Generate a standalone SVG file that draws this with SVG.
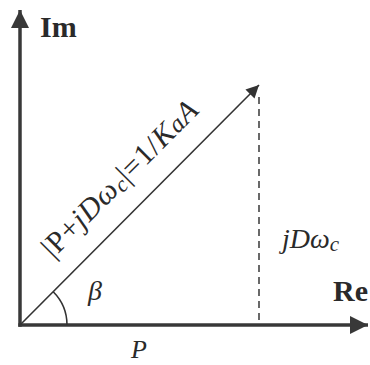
<svg xmlns="http://www.w3.org/2000/svg" width="370" height="365" viewBox="0 0 370 365">
<style>
.axis{stroke:#383838;stroke-width:3.5;fill:none}
.vec{stroke:#333;stroke-width:1.6;fill:none}
.dash{stroke:#444;stroke-width:1.6;stroke-dasharray:7,5;fill:none}
.t{font-family:"Liberation Serif","Times New Roman",serif;fill:#2a2a2a}
.b{font-weight:bold}
.i{font-style:italic}
</style>
<defs>
<marker id="bigArrow" viewBox="0 0 10 10" refX="10" refY="5" markerWidth="5.2" markerHeight="5.2" markerUnits="strokeWidth" orient="auto">
<path d="M0,0 L10,5 L0,10 z" fill="#383838"/>
</marker>
<marker id="smallArrow" viewBox="0 0 10 10" refX="10" refY="5" markerWidth="9" markerHeight="8" markerUnits="strokeWidth" orient="auto">
<path d="M0,0 L10,5 L0,10 z" fill="#333"/>
</marker>
</defs>
<g id="connectors">
<line id="re-axis" class="axis" x1="18.3" y1="325" x2="368" y2="325" marker-end="url(#bigArrow)"/>
<line id="im-axis" class="axis" x1="20" y1="326.7" x2="20" y2="10" marker-end="url(#bigArrow)"/>
<line id="vector" class="vec" x1="20" y1="325" x2="259" y2="85" marker-end="url(#smallArrow)"/>
<line id="projection" class="dash" x1="259" y1="97" x2="259" y2="325"/>
<path id="angle-arc" class="vec" d="M67,325 A47,47 0 0 0 53.2,291.8"/>
</g>
<g id="label-im"><text class="t b" x="40" y="37" font-size="30">Im</text></g>
<g id="label-re"><text class="t b" x="333" y="301" font-size="30">Re</text></g>
<g id="label-magnitude"><text class="t" font-size="30" textLength="208" lengthAdjust="spacing" transform="translate(53,259) rotate(-45)">|P+<tspan class="i">jDω</tspan><tspan class="i" font-size="22" dy="3">c</tspan><tspan dy="-3">|=1/</tspan><tspan class="i">K</tspan><tspan class="i" font-size="25">a</tspan><tspan class="i">A</tspan></text></g>
<g id="label-beta"><text class="t i" x="88" y="300" font-size="28">β</text></g>
<g id="label-jdw"><text class="t i" x="282" y="248" font-size="28">jDω<tspan font-size="21" dy="3">c</tspan></text></g>
<g id="label-p"><text class="t i" x="131" y="358" font-size="26">P</text></g>
</svg>
